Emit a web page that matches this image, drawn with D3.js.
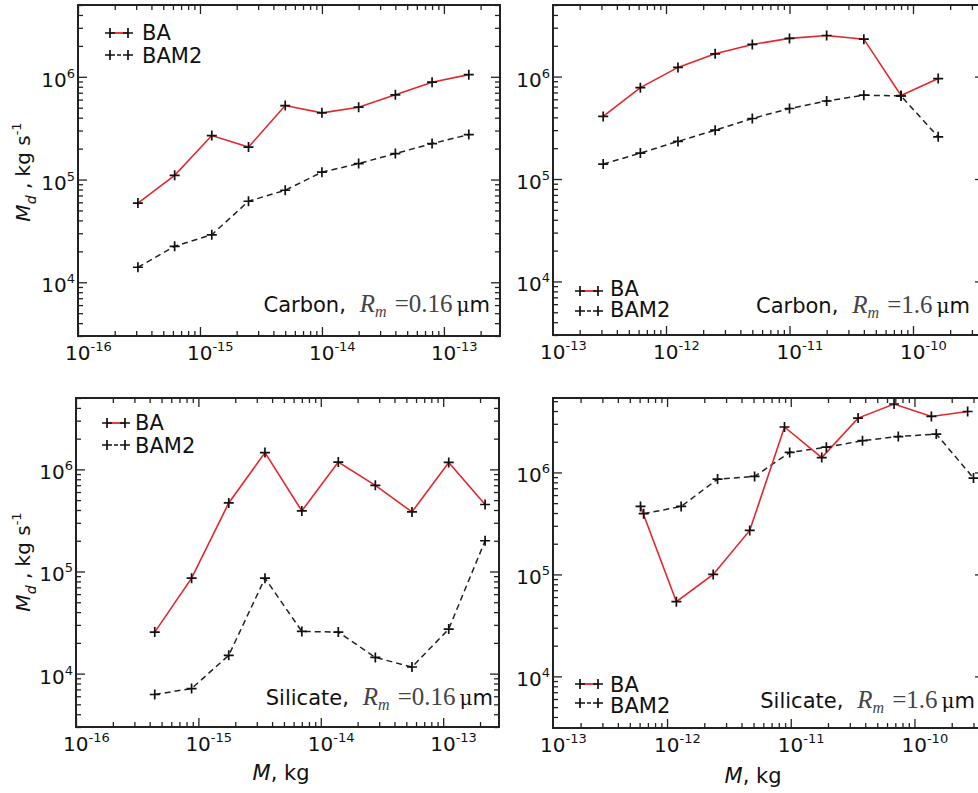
<!DOCTYPE html>
<html>
<head>
<meta charset="utf-8">
<script src="https://cdn.jsdelivr.net/npm/d3@7.9.0/dist/d3.min.js"></script>
<style>
  body { margin: 0; background: #fff; }
  svg { display: block; }
  text { font-family: "DejaVu Sans", "Liberation Sans", Arial, sans-serif; fill: #111; }
</style>
</head>
<body>
<svg id="chart" width="978" height="793"></svg>
<script>
// carbon, Rm = 0.16 um
const carbonSmallMass = [3.1e-16, 6.2e-16, 1.25e-15, 2.5e-15, 5e-15, 1e-14, 2e-14, 4e-14, 8e-14, 1.6e-13];
const carbonSmallBA = [5.9e4, 1.1e5, 2.68e5, 2.07e5, 5.25e5, 4.46e5, 5.06e5, 6.68e5, 8.86e5, 1.05e6];
const carbonSmallBAM2 = [1.4e4, 2.24e4, 2.9e4, 6.15e4, 7.87e4, 1.18e5, 1.43e5, 1.79e5, 2.24e5, 2.74e5];

// carbon, Rm = 1.6 um
const carbonLargeMass = [3.1e-13, 6.2e-13, 1.25e-12, 2.5e-12, 5e-12, 1e-11, 2e-11, 4e-11, 8e-11, 1.6e-10];
const carbonLargeBA = [4.08e5, 7.8e5, 1.23e6, 1.67e6, 2.06e6, 2.36e6, 2.52e6, 2.32e6, 6.53e5, 9.56e5];
const carbonLargeBAM2 = [1.4e5, 1.79e5, 2.33e5, 3.0e5, 3.9e5, 4.88e5, 5.78e5, 6.58e5, 6.47e5, 2.58e5];

// silicate, Rm = 0.16 um
const silicateSmallMass = [4.4e-16, 8.8e-16, 1.77e-15, 3.5e-15, 7.0e-15, 1.39e-14, 2.79e-14, 5.56e-14, 1.11e-13, 2.2e-13];
const silicateSmallBA = [2.55e4, 8.6e4, 4.69e5, 1.46e6, 3.92e5, 1.18e6, 6.98e5, 3.83e5, 1.17e6, 4.53e5];
const silicateSmallBAM2 = [6.24e3, 7.14e3, 1.51e4, 8.6e4, 2.59e4, 2.55e4, 1.44e4, 1.16e4, 2.73e4, 2.0e5];

// silicate, Rm = 1.6 um (the two series sit on slightly different masses)
const silicateLargeMassBA = [6.1e-13, 1.19e-12, 2.36e-12, 4.66e-12, 8.9e-12, 1.78e-11, 3.5e-11, 6.84e-11, 1.37e-10, 2.69e-10];
const silicateLargeBA = [4.64e5, 5.4e4, 1.0e5, 2.7e5, 2.79e6, 1.4e6, 3.41e6, 4.69e6, 3.54e6, 3.96e6];
const silicateLargeMassBAM2 = [6.47e-13, 1.3e-12, 2.56e-12, 5.1e-12, 9.8e-12, 1.94e-11, 3.8e-11, 7.4e-11, 1.5e-10, 3.0e-10];
const silicateLargeBAM2 = [3.94e5, 4.64e5, 8.6e5, 9.14e5, 1.57e6, 1.77e6, 2.05e6, 2.25e6, 2.38e6, 8.8e5];

const seriesNames = ['BA', 'BAM2'];
const xLabelsSmall = [1e-16, 1e-15, 1e-14, 1e-13];
const xLabelsLarge = [1e-13, 1e-12, 1e-11, 1e-10];
const yLabels = [1e4, 1e5, 1e6];

const zip = (xs, ys) => xs.map((v, i) => [v, ys[i]]);

// right-hand frames run a little past the window edge, as in the original
const panels = [
  { left: 78, top: 5, w: 422, h: 331, xd: [1e-16, 10 ** -12.54], yd: [3e3, 5e6],
    ba: zip(carbonSmallMass, carbonSmallBA), bam: zip(carbonSmallMass, carbonSmallBAM2),
    xl: xLabelsSmall, legend: { x: 32, y: [28, 50], tx: 64, by: [35, 58] },
    note: { mat: 'Carbon', r: '0.16', x: 412, y: 307 }, yTitle: [30, 172] },
  { left: 553, top: 5, w: 431, h: 330, xd: [10 ** -12.915, 10 ** -9.425], yd: [3e3, 5e6],
    ba: zip(carbonLargeMass, carbonLargeBA), bam: zip(carbonLargeMass, carbonLargeBAM2),
    xl: xLabelsLarge, legend: { x: 27, y: [286, 306], tx: 57, by: [291, 312] },
    note: { mat: 'Carbon', r: '1.6', x: 417, y: 308 } },
  { left: 76, top: 398, w: 423, h: 329, xd: [1e-16, 10 ** -12.544], yd: [3e3, 5e6],
    ba: zip(silicateSmallMass, silicateSmallBA), bam: zip(silicateSmallMass, silicateSmallBAM2),
    xl: xLabelsSmall, legend: { x: 31, y: [25, 47], tx: 59, by: [32, 55] },
    note: { mat: 'Silicate', r: '0.16', x: 417, y: 307 }, yTitle: [30, 562], xTitle: [281, 780] },
  { left: 553, top: 398, w: 431, h: 330, xd: [10 ** -12.922, 10 ** -9.438], yd: [10 ** 3.494, 10 ** 6.73],
    ba: zip(silicateLargeMassBA, silicateLargeBA), bam: zip(silicateLargeMassBAM2, silicateLargeBAM2),
    xl: xLabelsLarge, legend: { x: 27, y: [286, 305], tx: 57, by: [294, 315] },
    note: { mat: 'Silicate', r: '1.6', x: 422, y: 310 }, xTitle: [753, 783] }
];

const red = '#e3262b';
const ink = '#222';
const svg = d3.select('#chart');
svg.append('rect').attr('width', 978).attr('height', 793).attr('fill', '#fff');

const plus = 'M-5,0H5M0,-5V5';
const legendLen = 18;

function tickSet(g, axisFn, scale, values, size, transform) {
  g.append('g').attr('transform', transform)
    .call(axisFn(scale).tickValues(values).tickSize(-size).tickFormat(''))
    .call(s => s.select('.domain').remove())
    .selectAll('line').attr('stroke', ink).attr('stroke-width', 1.3);
}

function powerLabel(sel, v) {
  const e = Math.round(Math.log10(v));
  sel.append('tspan').text('10');
  sel.append('tspan').attr('font-size', 13).attr('dy', -9).text(e);
}

panels.forEach(p => {
  const x = d3.scaleLog().domain(p.xd).range([0, p.w]);
  const y = d3.scaleLog().domain(p.yd).range([p.h, 0]);
  const g = svg.append('g').attr('transform', `translate(${p.left},${p.top})`);

  const isMajor = v => Math.abs(Math.log10(v) - Math.round(Math.log10(v))) < 1e-6;
  const xt = x.ticks(), yt = y.ticks();
  const xMaj = xt.filter(isMajor), xMin = xt.filter(v => !isMajor(v));
  const yMaj = yt.filter(isMajor), yMin = yt.filter(v => !isMajor(v));

  // inward ticks on all four sides
  tickSet(g, d3.axisBottom, x, xMin, 5, `translate(0,${p.h})`);
  tickSet(g, d3.axisBottom, x, xMaj, 9, `translate(0,${p.h})`);
  tickSet(g, d3.axisTop, x, xMin, 5, 'translate(0,0)');
  tickSet(g, d3.axisTop, x, xMaj, 9, 'translate(0,0)');
  tickSet(g, d3.axisLeft, y, yMin, 5, 'translate(0,0)');
  tickSet(g, d3.axisLeft, y, yMaj, 9, 'translate(0,0)');
  tickSet(g, d3.axisRight, y, yMin, 5, `translate(${p.w},0)`);
  tickSet(g, d3.axisRight, y, yMaj, 9, `translate(${p.w},0)`);

  // tick labels; a clamped copy keeps the edge decade at the frame
  const xc = x.copy().clamp(true);
  p.xl.forEach(v => {
    g.append('text').attr('x', xc(v) - 13).attr('y', p.h + 24)
      .attr('font-size', 20).call(powerLabel, v);
  });
  yLabels.forEach(v => {
    g.append('text').attr('x', -3).attr('y', y(v) + 10).attr('text-anchor', 'end')
      .attr('font-size', 20).call(powerLabel, v);
  });

  const line = d3.line().x(d => x(d[0])).y(d => y(d[1]));

  g.append('path').datum(p.bam).attr('d', line).attr('fill', 'none')
    .attr('stroke', ink).attr('stroke-width', 1.5).attr('stroke-dasharray', '6,4');
  g.append('path').datum(p.ba).attr('d', line).attr('fill', 'none')
    .attr('stroke', red).attr('stroke-width', 1.6);

  [p.bam, p.ba].forEach(s => {
    g.selectAll(null).data(s).join('path')
      .attr('transform', d => `translate(${x(d[0])},${y(d[1])})`)
      .attr('d', plus).attr('stroke', '#111').attr('stroke-width', 1.7);
  });

  // frame
  g.append('rect').attr('width', p.w).attr('height', p.h)
    .attr('fill', 'none').attr('stroke', ink).attr('stroke-width', 2);

  // legend
  const L = p.legend;
  seriesNames.forEach((name, i) => {
    const ly = L.y[i];
    if (i === 0) {
      g.append('line').attr('x1', L.x).attr('x2', L.x + legendLen).attr('y1', ly).attr('y2', ly)
        .attr('stroke', red).attr('stroke-width', 1.8);
    } else {
      g.append('line').attr('x1', L.x + 7).attr('x2', L.x + legendLen - 7).attr('y1', ly).attr('y2', ly)
        .attr('stroke', ink).attr('stroke-width', 1.6);
    }
    [L.x, L.x + legendLen].forEach(px => {
      g.append('path').attr('transform', `translate(${px},${ly})`).attr('d', plus)
        .attr('stroke', '#111').attr('stroke-width', 1.7);
    });
    g.append('text').attr('x', L.tx).attr('y', L.by[i]).attr('font-size', 21).text(name);
  });

  // material / radius note
  const N = p.note;
  const t = g.append('text').attr('x', N.x).attr('y', N.y).attr('text-anchor', 'end').attr('font-size', 21);
  t.append('tspan').text(N.mat + ',');
  t.append('tspan').attr('dx', 14).attr('font-family', '"Liberation Serif", serif')
    .attr('font-style', 'italic').attr('font-size', 25).attr('fill', '#444').text('R');
  t.append('tspan').attr('dy', 5).attr('font-family', '"Liberation Serif", serif')
    .attr('font-style', 'italic').attr('font-size', 16).attr('fill', '#444').text('m');
  t.append('tspan').attr('dy', -5).attr('dx', 8).attr('font-family', '"Liberation Serif", serif')
    .attr('font-size', 25).attr('fill', '#444').text('=' + N.r);
  t.append('tspan').attr('dx', 4).attr('font-family', '"DejaVu Serif", serif').attr('font-size', 20).text('μ');
  t.append('tspan').text('m');

  if (p.yTitle) {
    const yt2 = svg.append('text').attr('transform', `translate(${p.yTitle[0]},${p.yTitle[1]}) rotate(-90)`)
      .attr('text-anchor', 'middle').attr('font-size', 20);
    yt2.append('tspan').attr('font-style', 'italic').text('M');
    yt2.append('tspan').attr('font-style', 'italic').attr('font-size', 14).attr('dy', 6).text('d');
    yt2.append('tspan').attr('dy', -6).text(' , kg s');
    yt2.append('tspan').attr('font-size', 13).attr('dy', -9).text('-1');
  }
  if (p.xTitle) {
    const xt2 = svg.append('text').attr('x', p.xTitle[0]).attr('y', p.xTitle[1])
      .attr('text-anchor', 'middle').attr('font-size', 21);
    xt2.append('tspan').attr('font-style', 'italic').text('M');
    xt2.append('tspan').text(', kg');
  }
});
</script>
</body>
</html>
